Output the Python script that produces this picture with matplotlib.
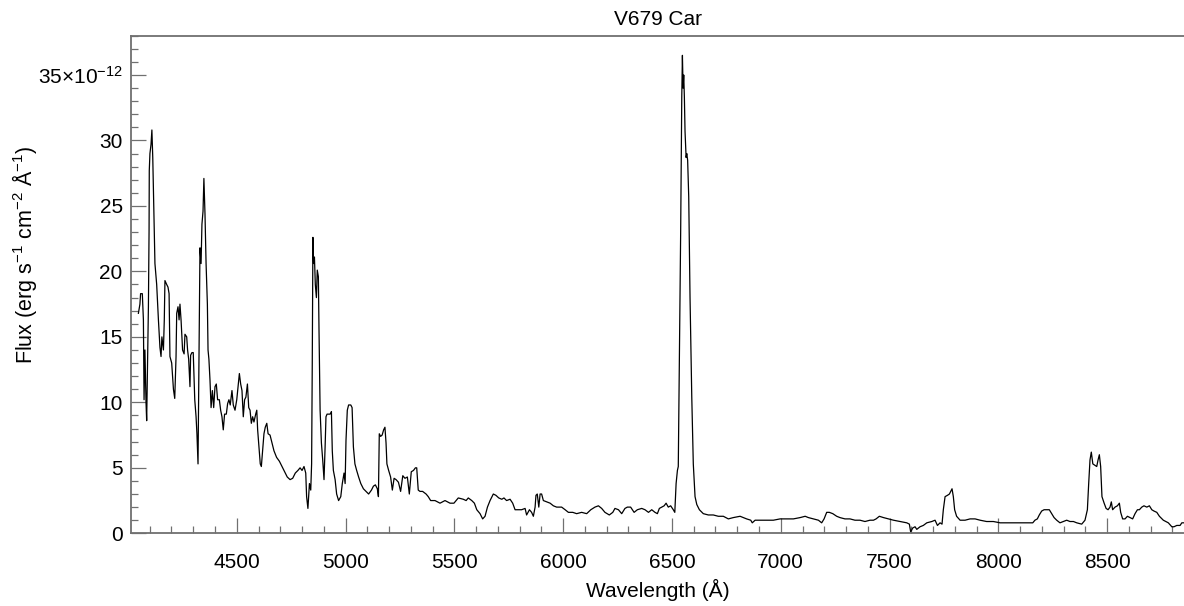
import matplotlib
matplotlib.use("Agg")
import matplotlib.pyplot as plt
from matplotlib.ticker import MultipleLocator, FuncFormatter
import numpy as np

# spectrum (wavelength in Angstrom, flux in 1e-12 erg/s/cm2/A)
wave = [
    4048, 4055, 4058, 4066, 4071, 4074, 4078, 4083, 4086, 4094, 4097, 4098, 4101, 4106, 4110,
    4114, 4120, 4124, 4132, 4140, 4147, 4152, 4156, 4163, 4167, 4170, 4178, 4184, 4189, 4193,
    4201, 4209, 4215, 4221, 4224, 4230, 4235, 4239, 4244, 4251, 4258, 4262, 4270, 4274, 4279,
    4285, 4288, 4294, 4300, 4307, 4313, 4317, 4322, 4326, 4331, 4336, 4340, 4345, 4349, 4354,
    4359, 4365, 4368, 4372, 4377, 4382, 4388, 4394, 4400, 4406, 4412, 4420, 4426, 4432, 4438,
    4444, 4452, 4458, 4464, 4470, 4478, 4484, 4492, 4500, 4506, 4512, 4518, 4524, 4530, 4536,
    4542, 4549, 4555, 4561, 4567, 4573, 4579, 4587, 4592, 4596, 4602, 4608, 4613, 4619, 4625,
    4631, 4638, 4644, 4653, 4662, 4671, 4683, 4696, 4708, 4720, 4732, 4745, 4757, 4769, 4781,
    4791, 4800, 4809, 4817, 4821, 4827, 4834, 4840, 4844, 4847, 4850, 4853, 4857, 4861, 4866,
    4870, 4875, 4878, 4883, 4889, 4895, 4901, 4906, 4910, 4915, 4922, 4929, 4935, 4939, 4944,
    4952, 4959, 4968, 4978, 4985, 4993, 4998, 5002, 5008, 5014, 5024, 5030, 5036, 5043, 5051,
    5060, 5070, 5082, 5094, 5106, 5119, 5128, 5137, 5146, 5151, 5155, 5161, 5168, 5175, 5181,
    5186, 5190, 5198, 5207, 5215, 5223, 5232, 5243, 5253, 5263, 5273, 5284, 5293, 5302, 5312,
    5321, 5327, 5334, 5342, 5354, 5370, 5380, 5391, 5411, 5434, 5457, 5480, 5498, 5518, 5541,
    5554, 5564, 5580, 5592, 5603, 5618, 5630, 5641, 5652, 5664, 5679, 5691, 5704, 5718, 5728,
    5740, 5756, 5768, 5779, 5794, 5809, 5825, 5832, 5845, 5855, 5863, 5871, 5875, 5881, 5888,
    5894, 5901, 5909, 5924, 5940, 5955, 5970, 5993, 6009, 6024, 6044, 6062, 6085, 6108, 6127,
    6146, 6162, 6177, 6192, 6212, 6228, 6238, 6254, 6269, 6284, 6295, 6310, 6326, 6341, 6361,
    6376, 6392, 6407, 6422, 6433, 6442, 6453, 6464, 6473, 6483, 6494, 6506, 6513, 6519, 6525,
    6529, 6534, 6540, 6545, 6548, 6551, 6554, 6557, 6560, 6565, 6568, 6572, 6577, 6583, 6591,
    6598, 6606, 6614, 6626, 6644, 6667, 6690, 6713, 6736, 6759, 6782, 6813, 6843, 6862, 6869,
    6882, 6905, 6935, 6966, 6997, 7027, 7058, 7089, 7112, 7127, 7150, 7173, 7188, 7199, 7211,
    7223, 7239, 7257, 7272, 7295, 7318, 7341, 7364, 7387, 7410, 7426, 7438, 7453, 7472, 7495,
    7518, 7548, 7579, 7591, 7597, 7606, 7617, 7625, 7640, 7655, 7671, 7694, 7709, 7720, 7732,
    7741, 7747, 7755, 7766, 7775, 7781, 7787, 7793, 7799, 7808, 7824, 7847, 7870, 7893, 7916,
    7946, 7977, 8008, 8038, 8069, 8100, 8130, 8158, 8168, 8179, 8188, 8199, 8210, 8222, 8234,
    8245, 8256, 8268, 8283, 8299, 8314, 8329, 8345, 8360, 8383, 8398, 8409, 8415, 8421, 8427,
    8434, 8443, 8452, 8458, 8464, 8470, 8476, 8486, 8495, 8504, 8513, 8519, 8525, 8536, 8547,
    8556, 8562, 8571, 8582, 8593, 8605, 8617, 8628, 8639, 8648, 8659, 8669, 8682, 8694, 8705,
    8715, 8728, 8740, 8758, 8781, 8797, 8807, 8820, 8835, 8843, 8853,
]
flux = [
    16.8, 17.5, 18.3, 18.3, 16.3, 10.2, 14.0, 10.0, 8.6, 17.3, 23.1, 27.7, 29.0, 29.7, 30.8,
    28.7, 23.6, 20.6, 19.0, 16.3, 14.2, 13.5, 15.0, 14.0, 16.3, 19.3, 19.0, 18.8, 18.3, 13.5,
    13.0, 11.0, 10.3, 13.5, 16.8, 17.3, 16.3, 17.5, 16.3, 14.0, 13.7, 15.2, 15.0, 14.0, 13.3,
    11.2, 13.6, 13.8, 13.8, 10.2, 8.9, 7.6, 5.3, 13.0, 21.8, 20.6, 23.6, 24.6, 27.1, 24.4,
    20.6, 17.5, 14.0, 13.3, 11.7, 9.6, 10.9, 9.6, 11.2, 11.4, 10.2, 10.2, 9.4, 8.9, 7.9,
    9.1, 9.1, 9.9, 10.2, 9.8, 10.9, 9.8, 9.4, 10.2, 11.2, 12.2, 11.4, 10.9, 8.9, 10.2,
    10.4, 11.4, 9.6, 9.4, 8.4, 8.9, 8.5, 9.1, 9.4, 7.9, 6.6, 5.3, 5.1, 6.3, 7.6,
    8.1, 8.4, 7.6, 7.5, 6.9, 6.3, 5.8, 5.5, 5.1, 4.7, 4.3, 4.1, 4.2, 4.6, 4.8,
    5.0, 4.8, 5.1, 4.6, 2.8, 1.9, 3.8, 3.3, 5.3, 13.0, 22.6, 20.6, 21.1, 19.0, 18.0,
    20.1, 19.6, 15.5, 9.4, 6.9, 5.6, 4.1, 6.6, 8.9, 9.1, 9.1, 9.1, 9.3, 6.3, 4.8,
    4.1, 3.0, 2.5, 2.8, 3.8, 4.6, 3.8, 7.1, 9.4, 9.8, 9.8, 9.6, 6.6, 5.3, 4.8,
    4.3, 3.8, 3.4, 3.2, 3.0, 3.3, 3.6, 3.7, 3.4, 2.8, 7.6, 7.4, 7.5, 7.9, 8.1,
    6.9, 5.3, 4.8, 4.3, 3.3, 4.2, 4.1, 3.9, 3.2, 4.4, 4.2, 4.3, 3.0, 4.7, 4.8,
    5.0, 5.0, 3.3, 3.2, 3.2, 3.0, 2.8, 2.5, 2.5, 2.3, 2.5, 2.3, 2.3, 2.7, 2.6,
    2.5, 2.7, 2.5, 2.3, 1.8, 1.5, 1.1, 1.3, 2.0, 2.5, 3.0, 2.9, 2.7, 2.6, 2.7,
    2.5, 2.6, 2.3, 1.8, 1.8, 1.8, 1.9, 1.4, 1.8, 1.6, 1.3, 2.0, 2.9, 3.0, 2.0,
    3.0, 3.0, 2.5, 2.4, 2.3, 2.1, 2.0, 2.0, 1.8, 1.6, 1.6, 1.5, 1.6, 1.5, 1.8,
    2.0, 2.1, 1.9, 1.6, 1.4, 1.6, 1.9, 1.8, 1.5, 1.9, 2.0, 2.0, 1.6, 1.8, 1.9,
    1.8, 1.6, 1.8, 1.6, 1.5, 1.9, 2.0, 2.1, 2.3, 2.0, 2.1, 1.8, 1.6, 3.8, 4.8,
    5.1, 13.0, 23.1, 33.3, 36.5, 34.0, 35.0, 33.3, 30.7, 28.7, 29.0, 28.5, 25.7, 18.0, 10.4,
    5.3, 2.8, 2.2, 1.8, 1.5, 1.4, 1.4, 1.3, 1.3, 1.1, 1.2, 1.3, 1.1, 1.0, 0.8,
    1.0, 1.0, 1.0, 1.0, 1.1, 1.1, 1.1, 1.2, 1.3, 1.2, 1.1, 1.0, 0.8, 1.1, 1.6,
    1.6, 1.5, 1.3, 1.2, 1.1, 1.1, 1.0, 1.0, 0.9, 1.0, 1.0, 1.1, 1.3, 1.2, 1.1,
    1.0, 0.9, 0.8, 0.7, 0.1, 0.4, 0.5, 0.3, 0.5, 0.6, 0.8, 0.9, 1.0, 0.6, 0.8,
    0.7, 1.8, 2.8, 2.9, 3.0, 3.2, 3.4, 2.8, 1.8, 1.3, 1.0, 1.0, 1.1, 1.1, 1.0,
    0.9, 0.9, 0.8, 0.8, 0.8, 0.8, 0.8, 0.8, 1.0, 1.1, 1.4, 1.7, 1.8, 1.8, 1.8,
    1.5, 1.2, 1.0, 0.8, 0.9, 1.0, 0.9, 0.9, 0.8, 0.7, 1.0, 1.8, 3.8, 5.6, 6.2,
    5.3, 5.2, 5.1, 5.6, 6.0, 5.1, 2.8, 2.3, 1.9, 1.8, 2.0, 2.4, 1.8, 2.0, 2.1,
    2.3, 1.6, 1.1, 1.1, 1.3, 1.2, 1.1, 1.5, 1.8, 1.8, 2.0, 2.1, 2.0, 2.1, 1.8,
    1.7, 1.6, 1.3, 1.0, 0.8, 0.5, 0.5, 0.6, 0.6, 0.8, 0.8,
]

x_range = (4014, 8853)
y_range = (0, 38)
title = "V679 Car"

plt.rcParams['font.family'] = ['Liberation Sans', 'DejaVu Sans']
plt.rcParams['mathtext.fontset'] = 'custom'
plt.rcParams['mathtext.rm'] = 'Liberation Sans'
plt.rcParams['mathtext.it'] = 'Liberation Sans:italic'
plt.rcParams['mathtext.bf'] = 'Liberation Sans:bold'

fig = plt.figure(figsize=(11.84, 6.06), dpi=100)
ax = fig.add_axes([131 / 1184, 1 - 533.3 / 606, 1 - 131 / 1184, (533.3 - 35.7) / 606])

ax.plot(wave, flux, color='black', lw=0.9)

ax.set_xlim(*x_range)
ax.set_ylim(*y_range)

ax.xaxis.set_major_locator(MultipleLocator(500))
ax.xaxis.set_minor_locator(MultipleLocator(100))
ax.yaxis.set_major_locator(MultipleLocator(5))
ax.yaxis.set_minor_locator(MultipleLocator(1))


def ylab(v, pos):
    # only the top label carries the exponent
    if abs(v - 35) < 1e-6:
        return r'35$\times$10$^{-12}$'
    return f"{v:.0f}"


ax.yaxis.set_major_formatter(FuncFormatter(ylab))

spine_col = '#707070'
for s in ['left', 'bottom', 'top']:
    ax.spines[s].set_color(spine_col)
    ax.spines[s].set_linewidth(1.3)
ax.spines['right'].set_visible(False)

ax.tick_params(which='both', direction='in', top=False, right=False, color=spine_col, width=0.9,
               labelsize=15, labelcolor='black')
ax.tick_params(which='major', length=10.5)
ax.tick_params(which='minor', length=5)
ax.tick_params(axis='x', which='major', pad=14)
ax.tick_params(axis='y', which='major', pad=6)

ax.set_title(title, fontsize=15, pad=8)
ax.set_xlabel('Wavelength (Å)', fontsize=15, labelpad=5)
ax.set_ylabel(r'Flux (erg s$^{-1}$ cm$^{-2}$ Å$^{-1}$)', fontsize=15.5)
ax.yaxis.set_label_coords(-0.087, 0.56)

fig.savefig('out.png', dpi=100)
